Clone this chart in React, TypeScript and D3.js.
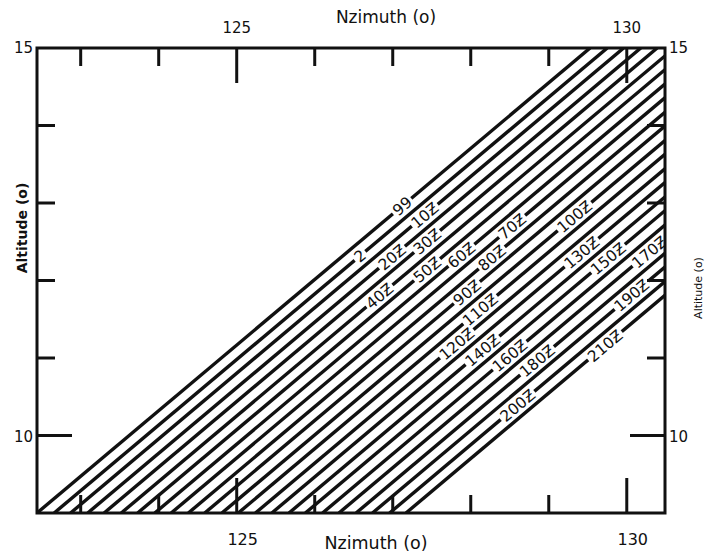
import * as React from 'react';
import * as d3 from 'd3';

// azimuth (deg) where each contour meets altitude 9 and altitude 15
const azimuthAtAlt9 = [
  122.44, 122.66, 122.87, 123.09, 123.30, 123.52, 123.73, 123.95,
  124.16, 124.38, 124.59, 124.81, 125.02, 125.24, 125.45, 125.67,
  125.88, 126.10, 126.31, 126.53, 126.74, 126.96, 127.17,
];
const azimuthAtAlt15 = [
  129.53, 129.75, 129.96, 130.18, 130.39, 130.61, 130.82, 131.04,
  131.25, 131.47, 131.68, 131.90, 132.11, 132.33, 132.54, 132.76,
  132.97, 133.19, 133.40, 133.62, 133.83, 134.05, 134.26,
];
const lineLabels = [
  '99', '2', '10Ƶ', '20Ƶ', '30Ƶ', '40Ƶ', '50Ƶ', '60Ƶ', '70Ƶ', '80Ƶ', '90Ƶ',
  '100Ƶ', '110Ƶ', '120Ƶ', '130Ƶ', '140Ƶ', '150Ƶ', '160Ƶ', '170Ƶ', '180Ƶ',
  '190Ƶ', '200Ƶ', '210Ƶ',
];
// azimuth where each label sits on its line
const labelAzimuth = [
  127.12, 126.58, 127.41, 126.99, 127.44, 126.83, 127.44, 127.88, 128.53,
  128.27, 127.95, 129.33, 128.12, 127.82, 129.42, 128.15, 129.76, 128.50,
  130.29, 128.85, 130.06, 128.60, 129.72,
];

const azimuthTicks = [123, 124, 125, 126, 127, 128, 129, 130];
const azimuthMajor = [125, 130];
const altitudeTicks = [10, 11, 12, 13, 14];
const altitudeMajor = [10];

const frame = { left: 37, right: 665, top: 48, bottom: 513 };
const font = '"DejaVu Sans", sans-serif';
const ink = '#111';

export default function App() {
  const x = d3.scaleLinear().domain([122.44, 130.49]).range([frame.left, frame.right]);
  const y = d3.scaleLinear().domain([9, 15]).range([frame.bottom, frame.top]);

  const line = d3.line<[number, number]>()
    .x(d => x(d[0]))
    .y(d => y(d[1]));

  const contours = azimuthAtAlt9.map((a9, i) => {
    const a15 = azimuthAtAlt15[i];
    const pts: [number, number][] = [[a9, 9], [a15, 15]];
    const angle = Math.atan2(y(15) - y(9), x(a15) - x(a9)) * 180 / Math.PI;
    const la = labelAzimuth[i];
    const lAlt = 9 + (la - a9) / (a15 - a9) * 6;
    return { pts, angle, lx: x(la), ly: y(lAlt), text: lineLabels[i] };
  });

  const minorLen = 18;
  const majorLen = 35;

  return (
    <svg width={705} height={554} style={{ position: 'absolute', left: 0, top: 0, background: '#fff' }}>
      <defs>
        <clipPath id="plot">
          <rect x={frame.left} y={frame.top} width={frame.right - frame.left} height={frame.bottom - frame.top} />
        </clipPath>
      </defs>

      <g clipPath="url(#plot)">
        {contours.map((c, i) => (
          <path key={i} d={line(c.pts) || ''} fill="none" stroke={ink} strokeWidth={3.4} />
        ))}
        {contours.map((c, i) => {
          const w = c.text.length * 10 + 4;
          return (
            <g key={'l' + i} transform={`translate(${c.lx},${c.ly}) rotate(${c.angle})`}>
              <rect x={-w / 2} y={-8} width={w} height={16} fill="#fff" />
              <text textAnchor="middle" dy="0.36em" fontFamily={font} fontSize={15.5} fill={ink}>{c.text}</text>
            </g>
          );
        })}
      </g>

      {/* ticks */}
      {azimuthTicks.map(t => {
        const len = azimuthMajor.includes(t) ? majorLen : minorLen;
        return (
          <g key={'az' + t} stroke={ink} strokeWidth={3}>
            <line x1={x(t)} x2={x(t)} y1={frame.top} y2={frame.top + len} />
            <line x1={x(t)} x2={x(t)} y1={frame.bottom} y2={frame.bottom - len} />
          </g>
        );
      })}
      {altitudeTicks.map(t => {
        const len = altitudeMajor.includes(t) ? majorLen : minorLen;
        return (
          <g key={'alt' + t} stroke={ink} strokeWidth={3}>
            <line x1={frame.left} x2={frame.left + len} y1={y(t)} y2={y(t)} />
            <line x1={frame.right} x2={frame.right - len} y1={y(t)} y2={y(t)} />
          </g>
        );
      })}

      <rect x={frame.left} y={frame.top} width={frame.right - frame.left} height={frame.bottom - frame.top}
        fill="none" stroke={ink} strokeWidth={3} />

      {/* tick labels */}
      <g fontFamily={font} fontSize={15} fill={ink}>
        {azimuthMajor.map(t => (
          <React.Fragment key={'azl' + t}>
            <text x={x(t)} y={33} textAnchor="middle">{t}</text>
            <text x={x(t) + 6} y={545} textAnchor="middle" fontSize={16}>{t}</text>
          </React.Fragment>
        ))}
        <text x={frame.left - 4} y={y(15) + 5} textAnchor="end">15</text>
        <text x={frame.left - 4} y={y(10) + 6} textAnchor="end">10</text>
        <text x={frame.right + 4} y={y(15) + 5}>15</text>
        <text x={frame.right + 4} y={y(10) + 6}>10</text>
        <text x={386} y={23} textAnchor="middle" fontSize={17}>Nzimuth (o)</text>
        <text x={376} y={549} textAnchor="middle" fontSize={17.5}>Nzimuth (o)</text>
        <text transform={`translate(27,228) rotate(-90)`} textAnchor="middle" fontWeight="bold" fontSize={14}>Altitude (o)</text>
        <text transform={`translate(702,288) rotate(-90)`} textAnchor="middle" fontSize={11}>Altitude (o)</text>
      </g>
    </svg>
  );
}
